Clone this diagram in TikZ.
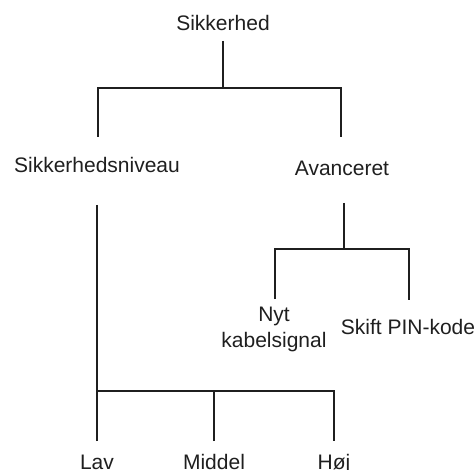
\documentclass[tikz,border=0pt]{standalone}
\usepackage{fontspec}
\setmainfont{Liberation Sans}
\begin{document}
\begin{tikzpicture}[x=1pt,y=1pt,
  lbl/.style={anchor=base,inner sep=0pt,text=black!88,font=\fontsize{21}{26}\selectfont},
  conn/.style={line width=1.3pt,draw=black!88}]
\useasboundingbox (0,0) rectangle (476,-470);
\node[lbl] (root) at (223,-31) {Sikkerhed};
\node[lbl] (sn) at (97,-173) {Sikkerhedsniveau};
\node[lbl] (av) at (342,-176) {Avanceret};
\node[lbl,align=center] (nyt) at (274,-347) {Nyt\\kabelsignal};
\node[lbl] (sk) at (408,-334) {Skift PIN-kode};
\node[lbl] (lav) at (97,-469) {Lav};
\node[lbl] (mid) at (214,-469) {Middel};
\node[lbl] (hoj) at (334,-469) {Høj};
\coordinate (rj) at (223,-88);
\coordinate (sj) at (97,-391);
\coordinate (aj) at (344,-249);
\draw[conn] ([yshift=-10]root.base) -- (rj);
\draw[conn] ([shift={(1,36)}]sn.base) |- (rj) -| ([shift={(-1,39)}]av.base);
\draw[conn] ([yshift=-32]sn.base) -- (sj);
\draw[conn] ([yshift=28]lav.base) -- (sj) -| ([yshift=28]hoj.base);
\draw[conn] ([yshift=28]mid.base) -- (mid.base |- sj);
\draw[conn] ([shift={(2,-27)}]av.base) -- (aj);
\draw[conn] ([shift={(1,48)}]nyt.base) |- (aj) -| ([shift={(1,34)}]sk.base);
\end{tikzpicture}
\end{document}
